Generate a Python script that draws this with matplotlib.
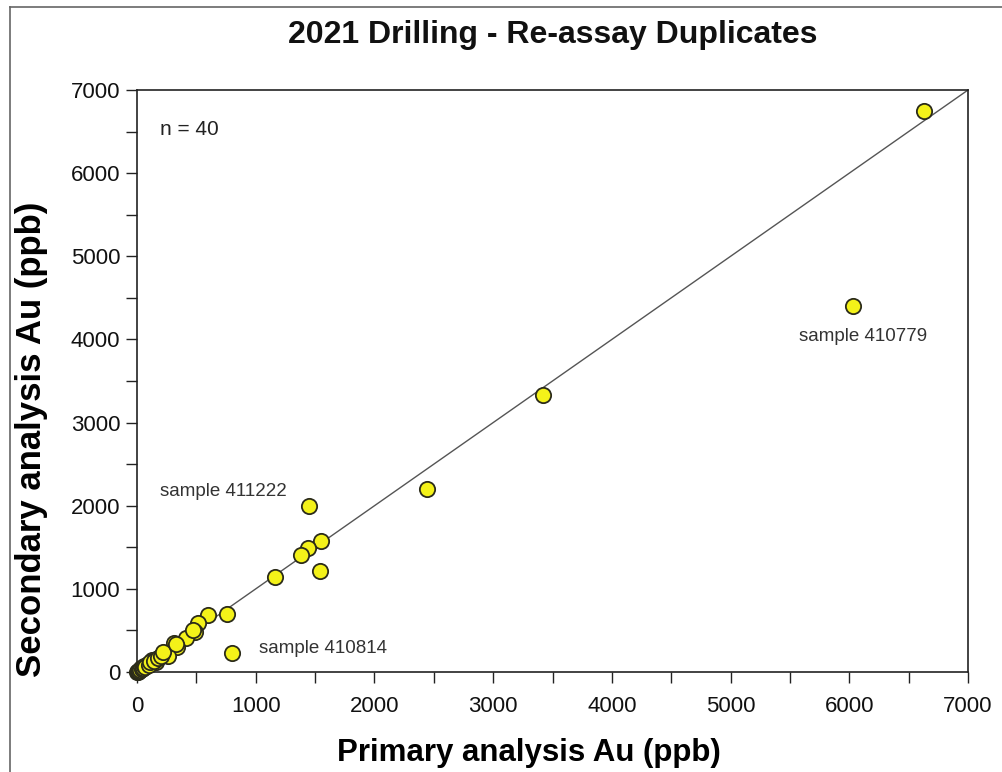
import matplotlib
matplotlib.use("Agg")
import matplotlib.pyplot as plt
from matplotlib.lines import Line2D

# ─── data ────────────────────────────────────────────────────────────────────

primary = [6630, 6030, 3420, 2440, 1450, 1550, 1440, 1380, 1540, 1160, 800,
           760, 600, 510, 490, 410, 340, 310, 260, 160, 90, 30, 0, 130,
           5, 10, 20, 25, 40, 50, 60, 70, 100, 110, 140, 180, 200, 220, 330, 470]
secondary = [6750, 4400, 3330, 2200, 2000, 1570, 1490, 1410, 1220, 1140, 230,
             700, 690, 590, 480, 410, 300, 350, 190, 120, 100, 50, 0, 140,
             5, 15, 10, 30, 35, 45, 70, 55, 80, 120, 130, 170, 190, 240, 340, 500]

# label text, anchor x, anchor y (data units)
notes = [("sample 410779", 6116, 4030, "center"),
         ("sample 411222", 194, 2177, "left"),
         ("sample 410814", 1028, 277, "left")]

TITLE  = "2021 Drilling - Re-assay Duplicates"
XLABEL = "Primary analysis Au (ppb)"
YLABEL = "Secondary analysis Au (ppb)"

# ─── style ───────────────────────────────────────────────────────────────────

plt.rcParams["font.family"] = ["Liberation Sans", "DejaVu Sans"]
C_FILL = "#F4F219"
C_EDGE = "#2B2B1A"
C_TEXT = "#333333"

fig = plt.figure(figsize=(10.03, 7.72), dpi=100)
ax = fig.add_axes([0.1366, 0.1295, 0.8285, 0.7539])

# 1:1 line
ax.plot([0, 7000], [0, 7000], color="#555555", lw=1.0, zorder=2)

ax.plot(primary, secondary, ls="none", marker="o", ms=11,
        mfc=C_FILL, mec=C_EDGE, mew=1.3, zorder=3, clip_on=False)

for txt, x, y, ha in notes:
    ax.text(x, y, txt, ha=ha, va="center", fontsize=13.5, color=C_TEXT)
ax.text(190, 6530, "n = 40", ha="left", va="center", fontsize=15, color="#222222")

ax.set_xlim(0, 7000)
ax.set_ylim(0, 7000)
ax.set_xticks(range(0, 7001, 1000))
ax.set_yticks(range(0, 7001, 1000))
ax.set_xticks(range(500, 7000, 1000), minor=True)
ax.set_yticks(range(500, 7000, 1000), minor=True)
ax.tick_params(which="both", direction="out", length=8, width=1.0,
               color="#222222", labelsize=16, labelcolor="#111111")
ax.tick_params(axis="x", pad=9)
ax.tick_params(axis="y", pad=4)
for s in ax.spines.values():
    s.set_linewidth(1.2)
    s.set_color("#222222")

ax.set_xlabel(XLABEL, fontsize=22.5, fontweight="bold")
ax.set_ylabel(YLABEL, fontsize=25, fontweight="bold")
ax.xaxis.set_label_coords(0.472, -0.113)
ax.yaxis.set_label_coords(-0.107, 0.399)
fig.text(0.551, 0.955, TITLE, ha="center", va="center",
         fontsize=23, fontweight="bold", color="#111111")

# outer frame of the original picture
fig.add_artist(Line2D([10 / 1003, 10 / 1003], [0, 1 - 7 / 772],
                      transform=fig.transFigure, color="#666666", lw=1.2))
fig.add_artist(Line2D([10 / 1003, 1], [1 - 7 / 772, 1 - 7 / 772],
                      transform=fig.transFigure, color="#666666", lw=1.2))

fig.savefig("out.png", dpi=100)
